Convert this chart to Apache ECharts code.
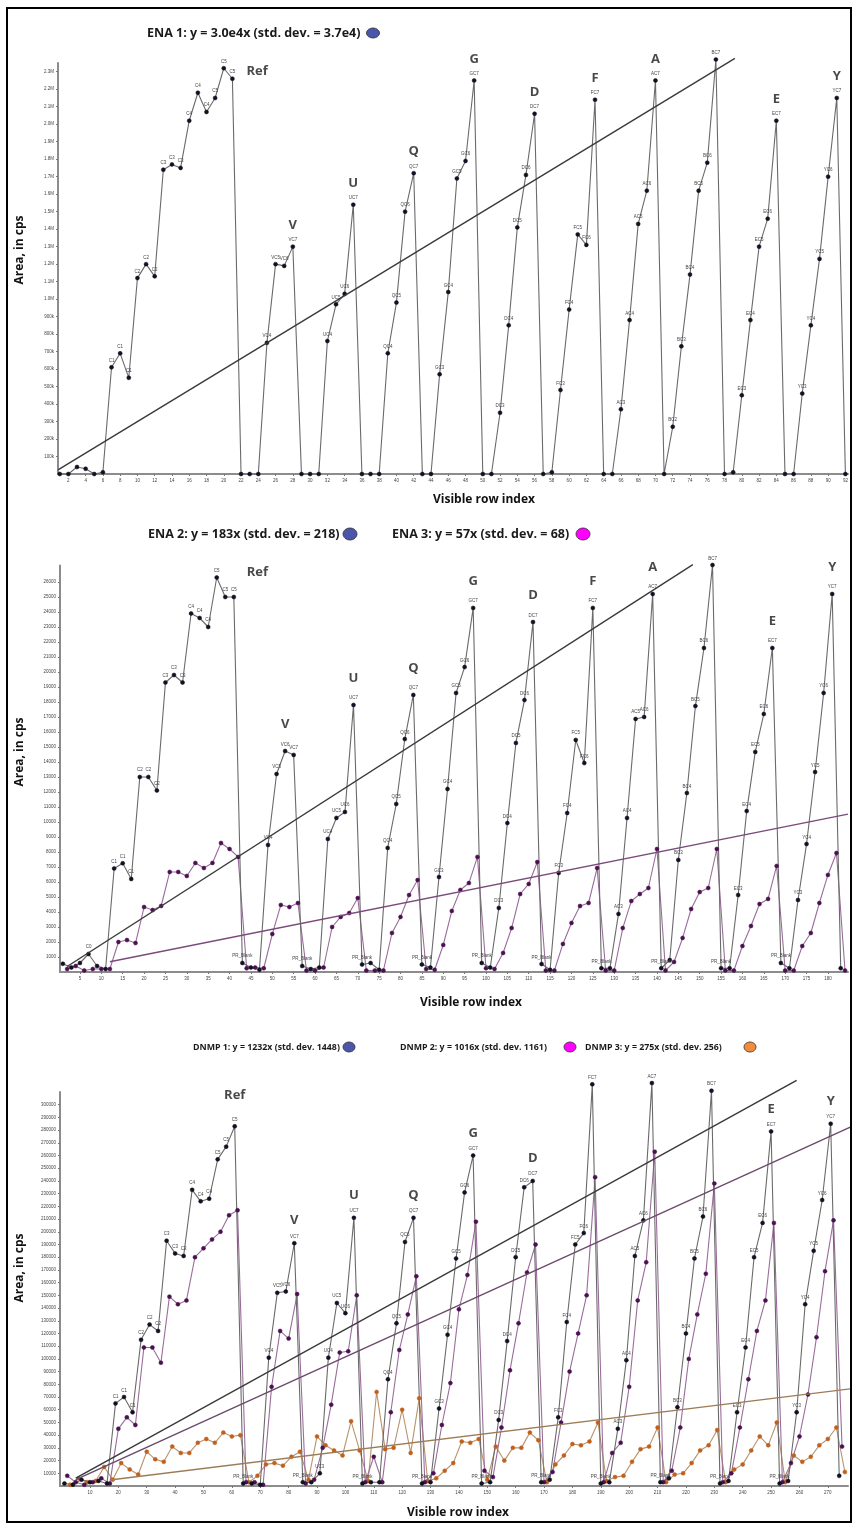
<!DOCTYPE html>
<html>
<head>
<meta charset="utf-8">
<script src="https://cdn.jsdelivr.net/npm/echarts@6/dist/echarts.min.js"></script>
<style>
html,body{margin:0;padding:0;background:#fff;}
#chart{width:858px;height:1530px;}
</style>
</head>
<body>
<div id="chart"></div>
<script>
// ---- block layout shared by all three panels (visible rows 1..92) ----
const blockNames     = ['Ref','V','U','Q','G','D','F','A','B','E','Y'];
const blockStartRows = [1,22,29,36,43,50,57,64,71,78,85];
const blockEndRows   = [21,28,35,42,49,56,63,70,77,84,91];

// ---- panel 1: ENA 1 ----
const ena1 = [0,0,40000,30000,0,10000,610000,690000,550000,1120000,1200000,1130000,1740000,1770000,1750000,2020000,2180000,2070000,2150000,2320000,2260000,
  0,0,0,750000,1200000,1190000,1300000,
  0,0,0,760000,970000,1030000,1540000,
  0,0,0,690000,980000,1500000,1720000,
  0,0,570000,1040000,1690000,1790000,2250000,
  0,0,350000,850000,1410000,1710000,2060000,
  0,10000,480000,940000,1370000,1310000,2140000,
  0,0,370000,880000,1430000,1620000,2250000,
  0,270000,730000,1140000,1620000,1780000,2370000,
  0,10000,450000,880000,1300000,1460000,2020000,
  0,0,460000,850000,1230000,1700000,2150000,
  0];

// ---- panel 2: ENA 2 / ENA 3 ----
const ena2 = [550,300,600,1200,400,200,6900,7250,6200,13000,13000,12100,19300,19800,19300,23900,23600,23000,26300,25000,25000,
  600,300,150,8470,13200,14730,14470,
  400,200,300,8870,10270,10670,17800,
  500,600,150,8270,11200,15530,18470,
  500,300,6330,12200,18600,20330,24270,
  600,300,4270,9930,15270,18130,23330,
  530,150,6600,10600,15470,13930,24270,
  250,250,3870,10270,16870,17000,25200,
  250,800,7470,11930,17730,21600,27130,
  250,250,5130,10730,14670,17200,21600,
  600,250,4800,8530,13330,18600,25200,
  250];
const ena3 = [200,400,100,200,200,200,2000,2130,1930,4330,4130,4400,6670,6670,6400,7270,6930,7270,8600,8200,7670,
  250,300,250,2530,4470,4330,4600,
  100,100,300,3000,3670,3930,4930,
  100,100,100,2600,3670,5130,6130,
  200,150,1800,4070,5470,5930,7670,
  250,200,1270,2930,5200,5870,7330,
  100,100,1870,3270,4400,4600,6930,
  100,100,2930,4730,5200,5600,8200,
  100,670,2270,4200,5330,5600,8200,
  100,100,1730,3070,4530,4870,7070,
  100,100,1730,2600,4600,6470,7930,
  100];

// ---- panel 3: DNMP 1 / DNMP 2 / DNMP 3 ----
const dnmp1 = [2000,1000,5000,3000,4000,2000,65000,70000,58000,115000,127000,122000,193000,183000,181000,233000,224000,226000,257000,267000,283000,
  2000,2000,1000,101000,152000,153000,191000,
  3000,3000,10000,101000,144000,136000,211000,
  2000,3000,3000,84000,128000,192000,211000,
  2000,3000,61000,119000,179000,231000,260000,
  2000,3000,52000,114000,180000,235000,240000,
  3000,5000,54000,129000,190000,199000,316000,
  2000,3000,45000,99000,181000,209000,317000,
  3000,6000,62000,120000,179000,212000,311000,
  2000,4000,58000,109000,180000,207000,279000,
  2000,4000,58000,143000,185000,225000,285000,
  8000];
const dnmp2 = [8000,3000,1000,3000,6000,2000,45000,54000,48000,109000,109000,97000,149000,143000,146000,180000,187000,194000,200000,213000,217000,
  3000,3000,1000,78000,122000,116000,151000,
  2000,5000,30000,64000,105000,106000,150000,
  3000,23000,3000,58000,107000,135000,165000,
  3000,10000,48000,81000,139000,166000,208000,
  12000,7000,46000,91000,128000,168000,190000,
  3000,11000,50000,90000,120000,150000,243000,
  3000,26000,34000,78000,146000,176000,263000,
  3000,12000,46000,100000,135000,167000,238000,
  3000,10000,46000,84000,122000,146000,207000,
  3000,18000,39000,72000,117000,169000,209000,
  31000];
const dnmp3 = [1000,6000,3000,4000,15000,5000,18000,13000,9000,27000,21000,19000,31000,26000,26000,34000,37000,34000,42000,39000,40000,
  3000,8000,17000,18000,16000,23000,27000,
  5000,39000,32000,28000,24000,51000,28000,
  4000,74000,29000,30000,60000,26000,69000,
  4000,6000,12000,18000,35000,34000,37000,
  5000,31000,20000,30000,30000,42000,36000,
  3000,17000,24000,33000,32000,35000,50000,
  4000,7000,8000,19000,29000,31000,46000,
  3000,9000,10000,18000,28000,32000,44000,
  3000,13000,17000,28000,39000,32000,50000,
  3000,24000,19000,23000,32000,37000,46000,
  11000];

// ---- regression lines: slope per visible row, drawn between x extents ----
const fitSlopes1 = [3.0e4];
const fitSpans1  = [[0.8, 79.2]];
const fitSlopes2 = [183, 57];
const fitSpans2  = [[2, 148.4], [12, 184.7]];
const fitSlopes3 = [1232, 1016, 275];
const fitSpans3  = [[5, 259], [5, 278], [17, 278]];

// ---- legend texts ----
const legend1 = ['ENA 1: y = 3.0e4x (std. dev. = 3.7e4)'];
const legend2 = ['ENA 2: y = 183x (std. dev. = 218)', 'ENA 3: y = 57x (std. dev. = 68)'];
const legend3 = ['DNMP 1: y = 1232x (std. dev. 1448)', 'DNMP 2: y = 1016x (std. dev. 1161)', 'DNMP 3: y = 275x (std. dev. 256)'];

// ---- tick values ----
const xTicks1 = []; for (let v = 2; v <= 92; v += 2) xTicks1.push(v);
const xTicks2 = []; for (let v = 5; v <= 180; v += 5) xTicks2.push(v);
const xTicks3 = []; for (let v = 10; v <= 270; v += 10) xTicks3.push(v);
const yTicks1 = []; for (let v = 1; v <= 23; v++) yTicks1.push(v * 1e5);
const yTicks2 = []; for (let v = 1; v <= 26; v++) yTicks2.push(v * 1000);
const yTicks3 = []; for (let v = 1; v <= 30; v++) yTicks3.push(v * 10000);

// rows are interleaved when a panel holds several series
function rowX(row, n, slot) { return n * row - (n - 1 - slot); }
function pts(vals, n, slot) { return vals.map((v, i) => [rowX(i + 1, n, slot), v]); }
function blockOf(row) { let b = 0; blockStartRows.forEach((s, i) => { if (row >= s) b = i; }); return b; }

// small sample tags printed next to the main series points
function makeTags(vals, withBlank) {
  const mx = Math.max(...vals);
  return vals.map((v, i) => {
    const row = i + 1, b = blockOf(row);
    if (withBlank && b > 0 && row === blockStartRows[b]) return 'PR_Blank';
    if (v < mx * 0.03) return '';
    if (b === 0) return 'C' + (Math.floor((row - 7) / 3) + 1);
    return blockNames[b] + 'C' + (row - blockStartRows[b] + 1);
  });
}

// block name placed above the highest point of each block
function blockLabels(vals, n, slot, gridIdx, dist, refPos) {
  return {
    type: 'scatter', xAxisIndex: gridIdx, yAxisIndex: gridIdx, symbolSize: 0, silent: true, z: 10,
    data: blockNames.map((name, b) => {
      let best = blockStartRows[b];
      for (let r = blockStartRows[b]; r <= blockEndRows[b]; r++) if (vals[r - 1] > vals[best - 1]) best = r;
      if (b === 0 && refPos.row) best = refPos.row;
      const item = { name: name, value: [rowX(best, n, slot), vals[best - 1]] };
      if (b === 0) item.label = { position: refPos.position, distance: refPos.distance, offset: refPos.offset };
      return item;
    }),
    label: { show: true, position: 'top', distance: dist, formatter: p => p.name,
             fontFamily: 'Open Sans', fontWeight: 'bold', fontSize: 13, color: '#1a1a1a' }
  };
}

const tinyLabel = { fontFamily: 'Liberation Sans', fontSize: 4.5, color: '#444' };

function dataSeries(vals, n, slot, gridIdx, lineColor, dotColor, tags) {
  const s = {
    type: 'line', xAxisIndex: gridIdx, yAxisIndex: gridIdx, data: pts(vals, n, slot),
    symbol: 'circle', symbolSize: 4, clip: false, silent: true,
    lineStyle: { color: lineColor, width: 1.1 },
    itemStyle: { color: dotColor, borderColor: dotColor, borderWidth: 0.5 },
    z: 3
  };
  if (tags) {
    s.label = Object.assign({ show: true, position: 'top', distance: 2,
      formatter: p => tags[p.dataIndex] }, tinyLabel);
  }
  return s;
}

function fitSeries(slope, span, gridIdx, color, width) {
  return {
    type: 'line', xAxisIndex: gridIdx, yAxisIndex: gridIdx, symbol: 'none', clip: false, silent: true,
    data: [[span[0], slope * span[0]], [span[1], slope * span[1]]],
    lineStyle: { color: color, width: width }, z: 5
  };
}

function xAxisDef(gridIdx, min, max, ticks) {
  return {
    type: 'value', gridIndex: gridIdx, min: min, max: max,
    axisLine: { onZero: false, lineStyle: { color: '#8c8c8c', width: 2 } },
    axisTick: { show: true, customValues: ticks, length: 2, lineStyle: { color: '#777', width: 1 } },
    axisLabel: Object.assign({ customValues: ticks, margin: 4 }, tinyLabel),
    splitLine: { show: false }
  };
}
function yAxisDef(gridIdx, max, ticks, fmt) {
  return {
    type: 'value', gridIndex: gridIdx, min: 0, max: max,
    axisLine: { show: true, onZero: false, lineStyle: { color: '#8c8c8c', width: 2 } },
    axisTick: { show: true, customValues: ticks, length: 2, lineStyle: { color: '#777', width: 1 } },
    axisLabel: Object.assign({ customValues: ticks, margin: 4, formatter: fmt }, tinyLabel),
    splitLine: { show: false }
  };
}

const fmtCps1 = v => (v >= 1e6 ? (v / 1e6).toFixed(1) + 'M' : (v / 1e3) + 'k');
const fmtPlain = v => String(v);

const legendFont = 'bold 12.5px "Open Sans"';
const legendFontSmall = 'bold 8.8px "Open Sans"';
function legendText(x, y, text, font) {
  return { type: 'text', x: x, y: y, style: { text: text, font: font, fill: '#1a1a1a', textVerticalAlign: 'middle' } };
}
function legendDot(cx, cy, rx, ry, fill) {
  return { type: 'ellipse', shape: { cx: cx, cy: cy, rx: rx, ry: ry }, style: { fill: fill, stroke: '#333', lineWidth: 0.8 } };
}
function axisTitle(x, y, text, rotate) {
  return { type: 'text', x: x, y: y, rotation: rotate ? Math.PI / 2 : 0,
    style: { text: text, font: 'bold 12px "Open Sans"', fill: '#111', textAlign: 'center', textVerticalAlign: 'middle' } };
}

const tags1 = makeTags(ena1, false);
const tags2 = makeTags(ena2, true);
const tags3 = makeTags(dnmp1, true);

const option = {
  animation: false,
  backgroundColor: '#ffffff',
  grid: [
    { left: 58, top: 63, width: 790, height: 411 },
    { left: 60, top: 565.5, width: 788, height: 406.5 },
    { left: 60, top: 1092, width: 788, height: 394 }
  ],
  xAxis: [
    xAxisDef(0, 0.8, 92.3, xTicks1),
    xAxisDef(1, 0.33, 184.7, xTicks2),
    xAxisDef(2, -0.56, 277.1, xTicks3)
  ],
  yAxis: [
    yAxisDef(0, 2.35e6, yTicks1, fmtCps1),
    yAxisDef(1, 27100, yTicks2, fmtPlain),
    yAxisDef(2, 310000, yTicks3, fmtPlain)
  ],
  series: [
    dataSeries(ena1, 1, 0, 0, '#6a6a6a', '#111122', tags1),
    fitSeries(fitSlopes1[0], fitSpans1[0], 0, '#3a3a3a', 1.4),
    blockLabels(ena1, 1, 0, 0, 15, { row: 21, position: 'right', distance: 14, offset: [0, -7] }),

    dataSeries(ena3, 2, 1, 1, '#9a6c9a', '#4a1050', null),
    dataSeries(ena2, 2, 0, 1, '#6a6a6a', '#111122', tags2),
    fitSeries(fitSlopes2[0], fitSpans2[0], 1, '#3a3a3a', 1.4),
    fitSeries(fitSlopes2[1], fitSpans2[1], 1, '#7a4a7a', 1.4),
    blockLabels(ena2, 2, 0, 1, 20, { row: 19, position: 'right', distance: 30, offset: [0, -5] }),

    dataSeries(dnmp3, 3, 2, 2, '#b8946c', '#c0601c', null),
    dataSeries(dnmp2, 3, 1, 2, '#9a6c9a', '#4a1050', null),
    dataSeries(dnmp1, 3, 0, 2, '#6a6a6a', '#111122', tags3),
    fitSeries(fitSlopes3[0], fitSpans3[0], 2, '#3a3a3a', 1.4),
    fitSeries(fitSlopes3[1], fitSpans3[1], 2, '#6a4a6a', 1.4),
    fitSeries(fitSlopes3[2], fitSpans3[2], 2, '#9c7c56', 1.4),
    blockLabels(dnmp1, 3, 0, 2, 16, { row: 21, position: 'top', distance: 25, offset: [0, 0] })
  ],
  graphic: [
    { type: 'rect', shape: { x: 7, y: 8, width: 844, height: 1514 }, style: { fill: null, stroke: '#000', lineWidth: 2 }, z: 100 },
    legendText(147, 33, legend1[0], legendFont),
    legendDot(373, 33, 6.5, 5, '#4b55aa'),
    legendText(148, 534, legend2[0], legendFont),
    legendDot(350, 534, 7, 6, '#4b55aa'),
    legendText(392, 534, legend2[1], legendFont),
    legendDot(583, 534, 7, 6, '#ff00ff'),
    legendText(193, 1047, legend3[0], legendFontSmall),
    legendDot(349, 1047, 6, 5, '#4b55aa'),
    legendText(400, 1047, legend3[1], legendFontSmall),
    legendDot(570, 1047, 6, 5, '#ff00ff'),
    legendText(585, 1047, legend3[2], legendFontSmall),
    legendDot(750, 1047, 6, 5, '#f28c3a'),
    axisTitle(20, 250, 'Area, in cps', true),
    axisTitle(20, 752, 'Area, in cps', true),
    axisTitle(20, 1268, 'Area, in cps', true),
    axisTitle(484, 500, 'Visible row index', false),
    axisTitle(471, 1003, 'Visible row index', false),
    axisTitle(458, 1513, 'Visible row index', false)
  ]
};

const chart = echarts.init(document.getElementById('chart'), null, { renderer: 'canvas' });
chart.setOption(option);
</script>
</body>
</html>
